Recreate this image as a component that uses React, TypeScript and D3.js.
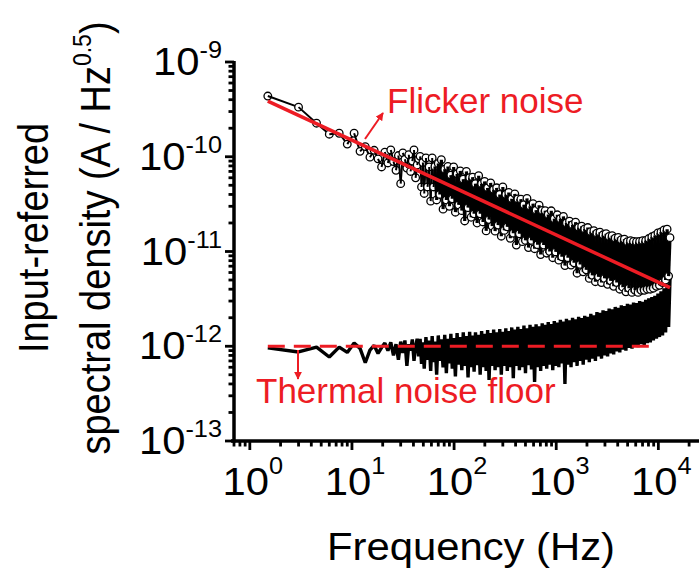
import React from 'react';
import * as d3 from 'd3';

// frequency bins (Hz), shared by both measured traces
const FREQ = [
  1.5, 3, 4.5, 6, 7.5, 9, 10.5, 12, 13.5, 15,
  16.5, 18, 19.5, 21, 22.5, 24, 25.5, 27, 28.5, 30,
  31.5, 33, 34.5, 36, 37.5, 39, 40.5, 42, 43.5, 45,
  46.5, 48, 49.5, 51, 53, 55, 57, 59, 61, 63,
  65, 67.5, 70, 72.5, 75, 78, 81, 84, 87, 90,
  93, 96, 99, 103, 107, 111, 115, 119, 123, 127,
  132, 137, 142, 147, 152, 157, 162, 168, 174, 180,
  186, 192, 199, 206, 213, 220, 228, 236, 244, 252,
  261, 270, 280, 290, 300, 310, 321, 332, 343, 355,
  367, 380, 393, 407, 421, 436, 451, 467, 483, 500,
  517, 535, 554, 573, 593, 614, 635, 657, 680, 704,
  729, 754, 780, 807, 835, 864, 894, 925, 957, 990,
  1025, 1061, 1098, 1136, 1176, 1217, 1259, 1303, 1349, 1396,
  1445, 1495, 1547, 1601, 1657, 1715, 1775, 1837, 1901, 1968,
  2037, 2108, 2182, 2258, 2337, 2419, 2503, 2591, 2682, 2776,
  2873, 2973, 3077, 3185, 3296, 3411, 3530, 3654, 3782, 3914,
  4051, 4193, 4340, 4492, 4649, 4812, 4980, 5154, 5334, 5521,
  5714, 5914, 6121, 6335, 6557, 6786, 7024, 7270, 7524, 7787,
  8060, 8342, 8634, 8936, 9249, 9573, 9908, 10255, 10614, 10985,
  11370, 11768, 12180, 12600, 13000,
];

// input-referred noise with the signal (pA / Hz^0.5)
const FLICKER_PA = [
  437, 334, 226, 173, 177, 136, 177, 114, 128, 99,
  117, 95, 78, 112, 86, 118, 89, 72, 103, 52,
  110, 94, 76, 105, 70, 90, 118, 60, 82, 95,
  101, 48, 87, 41, 97, 48, 78, 34, 97, 48,
  79, 35, 85, 40, 93, 28, 74, 35, 79, 30,
  64, 36, 78, 26, 66, 31, 71, 27, 58, 21,
  70, 29, 60, 23, 61, 25, 52, 20, 63, 25,
  52, 20.5, 55, 16.5, 47, 21.7, 53, 18.5, 45, 16.4,
  47, 19, 40, 14.5, 48, 16.7, 40, 18.2, 42, 13.8,
  36, 15.6, 40.6, 11.7, 35.8, 15.4, 35.7, 12.7, 31.2, 13.1,
  36.4, 11, 30, 13.1, 32, 10.7, 27.3, 11.8, 30.8, 9.3,
  27.1, 11.7, 27, 9.6, 24.6, 10, 26.9, 8.6, 22.2, 9.9,
  24.4, 8.1, 22.2, 8.8, 23.5, 7.1, 20, 8.6, 20.9, 7.2,
  19.2, 7.6, 20.4, 5.9, 18, 7.3, 18.5, 6.1, 17.3, 6.4,
  17.9, 5.2, 16.2, 5.6, 16.6, 4.8, 15.6, 5.4, 16, 4.7,
  15, 5.2, 15.4, 4.5, 14.4, 4.9, 14.7, 4.3, 13.8, 4.7,
  14.1, 4, 13.3, 4.2, 13.5, 3.75, 12.7, 4.1, 13, 3.7,
  12.8, 3.9, 12.7, 3.7, 12.8, 3.9, 13, 3.9, 13.1, 4,
  13.7, 4, 14.3, 4.1, 14.8, 4.3, 15.7, 4.4, 16.1, 4.7,
  16.9, 5, 17.2, 5.5, 14,
];

// thermal noise trace (pA / Hz^0.5)
const THERMAL_PA = [
  0.96, 0.87, 0.98, 0.77, 0.98, 0.86, 1.08, 0.95, 0.67, 0.91,
  1.02, 0.84, 0.97, 1.08, 0.9, 1.1, 0.8, 1.05, 0.72, 1.12,
  0.85, 1.15, 0.62, 1.05, 0.9, 1.18, 0.7, 1.0, 1.2, 0.78,
  1.2, 0.65, 1.1, 0.58, 1.25, 0.72, 1.15, 0.55, 1.28, 0.68,
  1.12, 0.5, 1.3, 0.7, 1.18, 0.6, 1.32, 0.52, 1.2, 0.66,
  1.35, 0.58, 1.22, 0.48, 1.38, 0.64, 1.25, 0.56, 1.4, 0.62,
  1.28, 0.47, 1.42, 0.6, 1.3, 0.54, 1.4, 0.63, 1.32, 0.5,
  1.45, 0.6, 1.35, 0.55, 1.48, 0.44, 1.38, 0.62, 1.5, 0.56,
  1.4, 0.6, 1.52, 0.5, 1.42, 0.62, 1.55, 0.55, 1.45, 0.6,
  1.58, 0.46, 1.5, 0.62, 1.6, 0.56, 1.52, 0.6, 1.65, 0.52,
  1.55, 0.63, 1.68, 0.57, 1.6, 0.42, 1.7, 0.6, 1.62, 0.55,
  1.75, 0.62, 1.68, 0.58, 1.8, 0.64, 1.72, 0.56, 1.85, 0.62,
  1.78, 0.6, 1.9, 0.66, 1.82, 0.4, 1.95, 0.64, 1.88, 0.6,
  2.0, 0.68, 1.92, 0.62, 2.05, 0.7, 1.98, 0.64, 2.1, 0.72,
  2.05, 0.68, 2.2, 0.74, 2.12, 0.7, 2.3, 0.78, 2.25, 0.74,
  2.4, 0.8, 2.35, 0.78, 2.5, 0.84, 2.45, 0.82, 2.6, 0.88,
  2.55, 0.86, 2.7, 0.92, 2.65, 0.9, 2.8, 0.96, 2.75, 0.94,
  2.9, 1.0, 2.85, 0.98, 3.0, 1.05, 2.95, 1.02, 3.1, 1.08,
  3.2, 1.1, 3.3, 1.15, 3.4, 1.2, 3.6, 1.25, 3.8, 1.3,
  4.1, 1.4, 4.5, 1.6, 5.2,
];

// 1/f^0.5 fit and thermal floor (end points)
const FIT_F = [1.5, 13000];
const FIT_PA = [386, 4.15];
const FLOOR_F = [1.5, 8930];
const FLOOR_PA = [1.0, 1.0];

const X_TICK_EXP = [0, 1, 2, 3, 4];
const Y_TICK_EXP = [-9, -10, -11, -12, -13];

const PA = 1e-12;
const RED = '#ED1C24';
const FONT = "'Liberation Sans', Arial, Helvetica, sans-serif";
const SX = 1.1; // axis text is a bit wider than tall in the original

const App = () => {
  const width = 699;
  const height = 571;

  const x = d3.scaleLog().domain([0.7, 25000]).range([234, 699]);
  const y = d3.scaleLog().domain([1e-13, 1e-9]).range([441, 62]);

  const isMajor = (v) => Math.abs(Math.log10(v) - Math.round(Math.log10(v))) < 1e-6;

  const pts = FREQ.map((f, i) => [x(f), y(FLICKER_PA[i] * PA)]);
  const thermal = d3.line()(FREQ.map((f, i) => [x(f), y(THERMAL_PA[i] * PA)]));
  const fit = d3.line()(FIT_F.map((f, i) => [x(f), y(FIT_PA[i] * PA)]));
  const floor = d3.line()(FLOOR_F.map((f, i) => [x(f), y(FLOOR_PA[i] * PA)]));

  const x0 = 234;
  const y0 = 441;

  return (
    <svg width={width} height={height} style={{ position: 'absolute', left: 0, top: 0, background: '#fff' }}
      fontFamily={FONT}>
      <defs>
        <marker id="ah" viewBox="0 0 10 10" refX="9" refY="5" markerWidth="4" markerHeight="4" orient="auto">
          <path d="M0,0 L10,5 L0,10 z" fill={RED} />
        </marker>
      </defs>

      {/* thermal trace */}
      <path d={thermal} fill="none" stroke="#000" strokeWidth={3.4} strokeLinejoin="bevel" />

      {/* flicker trace: line + open circles */}
      {pts.map((p, i) => (
        <g key={i}>
          {i > 0 && (
            <line x1={pts[i - 1][0]} y1={pts[i - 1][1]} x2={p[0]} y2={p[1]} stroke="#000"
              strokeWidth={i > 40 ? 3.2 : 2} />
          )}
          <circle cx={p[0]} cy={p[1]} r={3.8} fill="#fff" stroke="#000" strokeWidth={1.3} />
        </g>
      ))}

      <path d={fit} fill="none" stroke={RED} strokeWidth={3.5} />
      <path d={floor} fill="none" stroke={RED} strokeWidth={3} strokeDasharray="17 9" />

      {/* axes */}
      <line x1={x0 - 3} x2={width} y1={y0} y2={y0} stroke="#000" strokeWidth={3.5} />
      <line x1={x0} x2={x0} y1={y(1e-9) - 1} y2={y0 + 1.5} stroke="#000" strokeWidth={3.5} />
      {x.ticks().map((t, i) => (
        <line key={'xt' + i} x1={x(t)} x2={x(t)} y1={y0} y2={y0 + (isMajor(t) ? 9 : 5.5)}
          stroke="#000" strokeWidth={2.8} />
      ))}
      {y.ticks().map((t, i) => (
        <line key={'yt' + i} x1={x0} x2={x0 - (isMajor(t) ? 9 : 5.5)} y1={y(t)} y2={y(t)}
          stroke="#000" strokeWidth={2.8} />
      ))}

      {X_TICK_EXP.map((e) => (
        <text key={'xl' + e} transform={`translate(${x(Math.pow(10, e)) + 3},495) scale(${SX},1)`}
          textAnchor="middle" fontSize={38} fill="#000">
          10<tspan fontSize={23} dy={-21}>{e}</tspan>
        </text>
      ))}
      {Y_TICK_EXP.map((e) => (
        <text key={'yl' + e} transform={`translate(222,${y(Math.pow(10, e)) + 13}) scale(${SX},1)`}
          textAnchor="end" fontSize={38} fill="#000">
          10<tspan fontSize={23} dy={-17}>{e}</tspan>
        </text>
      ))}

      <text transform={`translate(471,560) scale(${SX},1)`} textAnchor="middle" fontSize={38} fill="#000">
        Frequency (Hz)
      </text>
      <text transform={`translate(48,238) scale(${SX},1) rotate(-90)`} textAnchor="middle" fontSize={38} fill="#000">
        Input-referred
      </text>
      <text transform={`translate(110,238) scale(${SX},1) rotate(-90)`} textAnchor="middle" fontSize={38} fill="#000">
        spectral density (A / Hz<tspan fontSize={23} dy={-17}>0.5</tspan><tspan dy={17}>)</tspan>
      </text>

      {/* annotations */}
      <line x1={365} y1={139} x2={383} y2={113} stroke={RED} strokeWidth={2} markerEnd="url(#ah)" />
      <text x={387} y={113} fontSize={35} fill={RED}>Flicker noise</text>
      <line x1={298} y1={350} x2={298} y2={379} stroke={RED} strokeWidth={2} markerEnd="url(#ah)" />
      <text x={256} y={403} fontSize={35} fill={RED}>Thermal noise floor</text>
    </svg>
  );
};

export default App;
